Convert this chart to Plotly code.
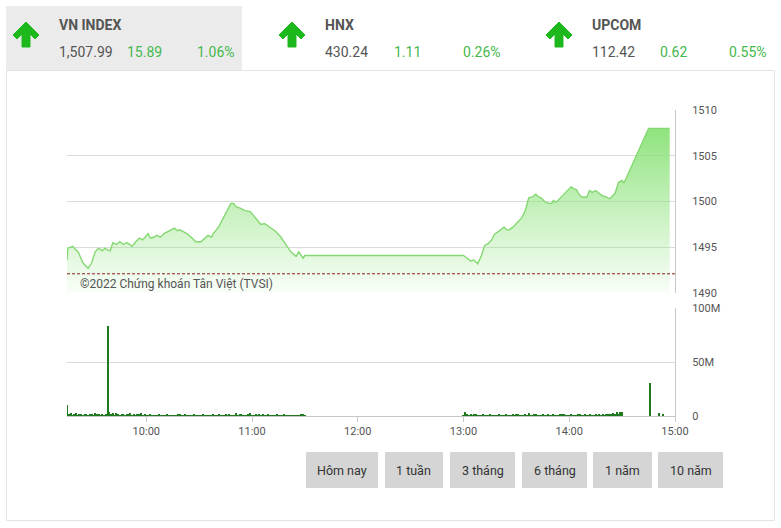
import plotly.graph_objects as go
import pandas as pd

W, H = 781, 528
DAY = "2022-01-04 "

# ---------------- data ----------------
price_times = ["09:15:00", "09:15:30", "09:17:00", "09:18:20", "09:19:30", "09:21:20", "09:24:00",
               "09:26:00", "09:27:00", "09:28:00", "09:29:00", "09:31:00", "09:32:00", "09:33:00",
               "09:35:00", "09:36:30", "09:38:00", "09:39:30", "09:41:00", "09:43:00", "09:45:00",
               "09:47:00", "09:49:00", "09:52:00", "09:54:00", "09:56:00", "09:58:00", "10:01:00",
               "10:02:00", "10:03:00", "10:06:00", "10:08:00", "10:10:00", "10:13:00", "10:16:00",
               "10:17:30", "10:19:00", "10:21:00", "10:23:00", "10:26:00", "10:28:00", "10:31:00",
               "10:33:00", "10:35:00", "10:37:00", "10:38:00", "10:41:00", "10:44:00", "10:46:00",
               "10:48:00", "10:49:30", "10:51:00", "10:53:00", "10:56:00", "10:59:00", "11:02:00",
               "11:05:00", "11:07:00", "11:10:00", "11:13:00", "11:16:00", "11:19:00", "11:22:00",
               "11:25:00", "11:26:30", "11:29:00", "11:30:00",
               "13:00:00", "13:04:00", "13:06:00", "13:08:00", "13:10:00", "13:12:00", "13:14:00",
               "13:16:00", "13:17:30", "13:19:00", "13:21:00", "13:23:00", "13:24:30", "13:26:00",
               "13:28:00", "13:29:00", "13:31:00", "13:33:00", "13:35:00", "13:37:00", "13:39:00",
               "13:41:00", "13:42:30", "13:44:00", "13:46:00", "13:48:00", "13:50:00", "13:51:00",
               "13:52:30", "13:54:00", "13:57:00", "13:59:00", "14:01:00", "14:02:30", "14:04:00",
               "14:05:30", "14:07:00", "14:10:00", "14:11:30", "14:13:00", "14:15:00", "14:17:00",
               "14:19:00", "14:21:00", "14:23:00", "14:26:00", "14:28:00", "14:30:00", "14:31:00",
               "14:45:00", "14:57:00"]
price_values = [1493.6, 1494.9, 1495.0, 1495.1, 1494.8, 1494.5, 1493.3,
                1492.9, 1492.7, 1493.0, 1493.3, 1494.5, 1494.7, 1494.9,
                1494.6, 1494.9, 1494.7, 1494.6, 1495.5, 1495.3, 1495.6,
                1495.3, 1495.5, 1495.1, 1495.6, 1496.0, 1495.8, 1496.5,
                1496.1, 1496.0, 1496.3, 1496.1, 1496.5, 1496.8, 1497.1,
                1496.8, 1496.9, 1496.7, 1496.5, 1496.0, 1495.6, 1495.6,
                1496.0, 1496.3, 1496.1, 1496.5, 1497.2, 1498.3, 1499.2,
                1499.8, 1499.8, 1499.4, 1499.3, 1499.0, 1498.9, 1498.2,
                1497.5, 1497.6, 1497.2, 1496.8, 1496.2, 1495.3, 1494.5,
                1494.0, 1494.5, 1493.8, 1494.1,
                1494.1, 1493.5, 1493.6, 1493.2, 1494.0, 1495.2, 1495.4,
                1495.8, 1496.4, 1496.6, 1496.9, 1497.2, 1496.9, 1496.9,
                1497.2, 1497.4, 1497.9, 1498.2, 1499.0, 1500.4, 1500.5,
                1500.8, 1500.5, 1500.4, 1500.0, 1499.8, 1499.8, 1500.1,
                1499.9, 1500.2, 1500.9, 1501.2, 1501.6, 1501.4, 1501.3,
                1500.8, 1500.5, 1500.5, 1501.2, 1501.0, 1501.2, 1500.9,
                1500.6, 1500.5, 1500.3, 1500.9, 1502.1, 1502.3, 1502.0,
                1507.99, 1507.99]
prev_close = 1492.10

# volume in millions, one value per minute
vol_morning = [10, 1, 3, 0.8, 1, 3, 0.9, 2, 1, 0.8,
               1, 2, 0.9, 2, 1, 0.8, 3, 1, 2, 0.9,
               1, 0.8, 1, 83, 4, 1, 3, 0.9, 3, 1,
               0.8, 2, 1, 0.9, 2, 1, 3, 0.8, 1, 0.9,
               2, 1, 3, 0.8, 1.5, 0.9, 0.7, 1, 0.8, 0.6,
               0.9, 0.7, 1, 0.5, 0.8, 0.9, 0.6, 1, 0.7, 0.8,
               0.6, 0.9, 0.7, 2, 2, 0.8, 0.6, 1, 0.7, 0.9,
               0.8, 0.6, 1, 0.7, 0.9, 0.8, 0.6, 1, 0.7, 0.9,
               0.8, 0.6, 0.9, 1, 0.7, 0.8, 1, 0.6, 0.9, 0.8,
               2, 0.7, 1, 0.8, 0.9, 0.6, 2.5, 0.8, 2, 1,
               0.7, 0.9, 0.8, 1, 3, 0.7, 0.9, 2, 0.8, 1,
               0.7, 2, 0.9, 0.8, 1, 0.6, 0.9, 0.8, 0.7, 1,
               0.8, 0.9, 0.6, 1, 0.7, 0.8, 0.9, 0.6, 0.8, 0.7,
               0.9, 0.6, 0.8, 1, 2, 0.7]
vol_afternoon = [0.8, 4, 1, 0.9, 2, 0.8, 2, 1, 0.7, 0.9,
                 0.8, 1, 0.7, 0.9, 0.8, 1, 0.6, 0.9, 0.8, 0.7,
                 1, 0.8, 0.9, 0.7, 1, 0.8, 0.6, 0.9, 2, 0.8,
                 1, 2, 0.7, 0.9, 0.8, 1, 0.7, 2.5, 0.8, 0.9,
                 1, 2, 0.8, 0.7, 0.9, 1, 0.8, 0.6, 2, 0.9,
                 0.8, 1, 0.7, 0.9, 0.8, 1, 2, 2, 0.8, 0.9,
                 0.7, 1, 0.8, 0.9, 0.7, 1, 2, 0.8, 0.9, 1,
                 0.8, 0.7, 1, 0.9, 0.8, 1.2, 0.9, 1, 0.8, 1.1,
                 0.9, 1.2, 1, 1.3, 1.5, 3, 1.2, 4, 1.5, 3.5,
                 4]
vol_close_times = ["14:46:00", "14:51:00", "14:53:00"]
vol_close_values = [31, 3, 2]

tick_times = ["10:00", "11:00", "12:00", "13:00", "14:00", "15:00"]
vol_ticks = [0, 50, 100]
vol_tick_text = ["0", "50M", "100M"]

indices = [
    {"name": "VN INDEX", "value": "1,507.99", "change": "15.89", "pct": "1.06%"},
    {"name": "HNX", "value": "430.24", "change": "1.11", "pct": "0.26%"},
    {"name": "UPCOM", "value": "112.42", "change": "0.62", "pct": "0.55%"},
]
buttons = ["Hôm nay", "1 tuần", "3 tháng", "6 tháng", "1 năm", "10 năm"]

# ---------------- build ----------------
px = lambda x: x / W
py = lambda y: 1 - y / H

p_x = [pd.Timestamp(DAY + t) for t in price_times]
v_x = list(pd.date_range(DAY + "09:15", periods=len(vol_morning), freq="1min")) + \
      list(pd.date_range(DAY + "13:00", periods=len(vol_afternoon), freq="1min")) + \
      [pd.Timestamp(DAY + t) for t in vol_close_times]
v_y = vol_morning + vol_afternoon + vol_close_values
x_range = [DAY + "09:15", DAY + "15:00"]

fig = go.Figure()
fig.add_trace(go.Scatter(
    x=p_x, y=price_values, mode="lines",
    line=dict(color="#84d872", width=1.4),
    fill="tozeroy",
    fillgradient=dict(type="vertical", start=1490, stop=1508,
                      colorscale=[[0, "rgba(150,230,135,0.06)"], [1, "rgba(140,226,122,0.98)"]]),
    xaxis="x", yaxis="y", hoverinfo="skip"))
fig.add_trace(go.Scatter(
    x=[pd.Timestamp(x_range[0]), pd.Timestamp(x_range[1])], y=[prev_close, prev_close],
    mode="lines", line=dict(color="#8b2020", width=1, dash="3px,2px"),
    xaxis="x", yaxis="y", hoverinfo="skip"))
fig.add_trace(go.Bar(
    x=v_x, y=v_y, width=36000, marker=dict(color="#1f7a1f", line=dict(width=0)),
    xaxis="x2", yaxis="y2", hoverinfo="skip"))

font_fam = "Roboto, 'Noto Sans', sans-serif"
grid = "#dadada"
axline = "#c8c8c8"

fig.update_layout(
    width=W, height=H, margin=dict(l=0, r=0, t=0, b=0, pad=0, autoexpand=False),
    paper_bgcolor="white", plot_bgcolor="white", showlegend=False,
    font=dict(family=font_fam, color="#555555", size=11),
    bargap=0,
    xaxis=dict(domain=[px(67), px(675)], range=x_range, type="date", anchor="y",
               showgrid=False, showticklabels=False, zeroline=False, showline=False,
               automargin=False),
    yaxis=dict(domain=[py(293), py(110)], range=[1490, 1510], dtick=5, tick0=1490,
               side="right", anchor="x", gridcolor=grid, gridwidth=1, zeroline=False,
               showline=True, linecolor=axline, linewidth=1, ticks="", automargin=False,
               ticklabelstandoff=14, tickfont=dict(size=11, color="#555555")),
    xaxis2=dict(domain=[px(67), px(675)], range=x_range, type="date", anchor="y2",
                tickvals=[DAY + t for t in tick_times], ticktext=tick_times,
                ticks="outside", ticklen=5, tickcolor=axline, showgrid=False,
                showline=True, linecolor=axline, linewidth=1, zeroline=False,
                automargin=False, tickfont=dict(size=11, color="#555555")),
    yaxis2=dict(domain=[py(416), py(308)], range=[0, 100], tickvals=vol_ticks,
                ticktext=vol_tick_text, side="right", anchor="x2", gridcolor=grid,
                zeroline=False, showline=True, linecolor=axline, linewidth=1, ticks="",
                automargin=False, ticklabelstandoff=14, tickfont=dict(size=11, color="#555555")),
)

shapes = []
annotations = []
# header background for first index
shapes.append(dict(type="rect", xref="paper", yref="paper", x0=px(6), x1=px(242),
                   y0=py(70), y1=py(6), fillcolor="#ebebeb", line=dict(width=0), layer="below"))
# container border
shapes.append(dict(type="rect", xref="paper", yref="paper", x0=px(6.5), x1=px(774.5),
                   y0=py(520.5), y1=py(70.5), fillcolor="rgba(0,0,0,0)",
                   line=dict(color="#e4e4e4", width=1), layer="below"))

header_x = [(26, 57, 125, 195), (292, 323, 392, 461), (559, 590, 658, 727)]
for info, (ax, tx, cx, pcx) in zip(indices, header_x):
    pts = [(0, -13), (13, 0), (9, 4), (4, -1), (4, 12), (-4, 12), (-4, -1), (-9, 4), (-13, 0)]
    path = "M " + " L ".join(f"{px(ax + dx):.5f},{py(35 + dy):.5f}" for dx, dy in pts) + " Z"
    shapes.append(dict(type="path", xref="paper", yref="paper", path=path,
                       fillcolor="#1cb81c", line=dict(color="#1cb81c", width=1)))
    annotations.append(dict(x=px(tx), y=py(25), xref="paper", yref="paper", text="<b>" + info["name"] + "</b>",
                            showarrow=False, xanchor="left", yanchor="middle",
                            font=dict(size=14, color="#555555", family=font_fam)))
    annotations.append(dict(x=px(tx), y=py(52.5), xref="paper", yref="paper", text=info["value"],
                            showarrow=False, xanchor="left", yanchor="middle",
                            font=dict(size=14, color="#555555", family=font_fam)))
    annotations.append(dict(x=px(cx), y=py(52.5), xref="paper", yref="paper", text=info["change"],
                            showarrow=False, xanchor="left", yanchor="middle",
                            font=dict(size=14, color="#45b84d", family=font_fam)))
    annotations.append(dict(x=px(pcx), y=py(52.5), xref="paper", yref="paper", text=info["pct"],
                            showarrow=False, xanchor="left", yanchor="middle",
                            font=dict(size=14, color="#45b84d", family=font_fam)))

annotations.append(dict(x=px(78), y=py(284), xref="paper", yref="paper",
                        text="©2022 Chứng khoán Tân Việt (TVSI)", showarrow=False,
                        xanchor="left", yanchor="middle",
                        font=dict(size=12, color="#555555", family=font_fam)))

btn_x = [(306, 378), (385, 443), (450, 515), (522, 587), (593, 652), (658, 723)]
for label, (bx0, bx1) in zip(buttons, btn_x):
    shapes.append(dict(type="rect", xref="paper", yref="paper", x0=px(bx0), x1=px(bx1),
                       y0=py(488), y1=py(452), fillcolor="#d5d5d5", line=dict(width=0)))
    annotations.append(dict(x=px((bx0 + bx1) / 2), y=py(470), xref="paper", yref="paper",
                            text=label, showarrow=False, xanchor="center", yanchor="middle",
                            font=dict(size=12.5, color="#333333", family=font_fam)))

fig.update_layout(shapes=shapes, annotations=annotations)
fig.write_html("out.html", config={"displayModeBar": False},
               post_script="document.body.style.margin='0';document.body.style.overflow='hidden';")
